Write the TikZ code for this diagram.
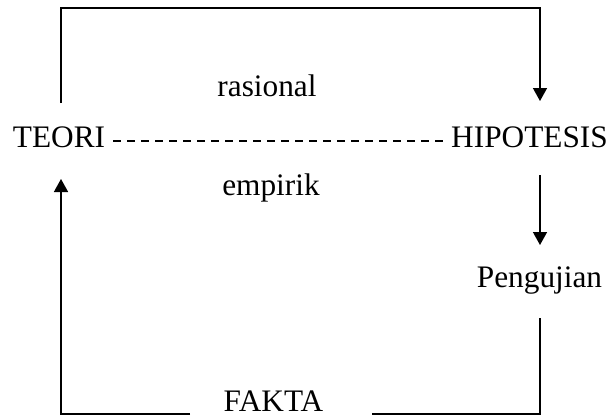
\documentclass[tikz,border=0pt]{standalone}
\usepackage{fontspec}
\setmainfont{Liberation Serif}
\usetikzlibrary{arrows.meta}
\tikzset{
  lbl/.style={anchor=base,inner sep=0pt,font=\fontsize{31.3}{36}\selectfont},
  conn/.style={line width=1.5pt,line join=miter},
  arr/.style={conn,-{Triangle[length=13pt,width=14pt]}},
  dsh/.style={line width=1.5pt,dash pattern=on 8pt off 6pt}
}
\begin{document}
\begin{tikzpicture}[x=1pt,y=-1pt]
\useasboundingbox (0,0) rectangle (611,418);
\node[lbl] (teori) at (59,147) {TEORI};
\node[lbl] (hipo) at (529.5,147) {HIPOTESIS};
\node[lbl] (uji) at (539.5,287) {Pengujian};
\node[lbl] (fakta) at (273.5,411) {FAKTA};
\node[lbl] (ras) at (267,96) {rasional};
\node[lbl] (emp) at (271,195) {empirik};
% top loop TEORI -> HIPOTESIS
\coordinate (t1) at (61,103);
\coordinate (t2) at (540,101);
\draw[arr] (t1) -- (61,8) -| (t2);
% dashed link
\coordinate (d1) at (113,141);
\coordinate (d2) at (443,141);
\draw[dsh] (d1) -- (d2);
% HIPOTESIS -> Pengujian
\coordinate (h1) at (540,175);
\coordinate (h2) at (540,245);
\draw[arr] (h1) -- (h2);
% Pengujian -> FAKTA
\coordinate (p1) at (540,318);
\coordinate (p2) at (372,414);
\draw[conn] (p1) |- (p2);
% FAKTA -> TEORI
\coordinate (f1) at (190,414);
\coordinate (f2) at (61,179);
\draw[arr] (f1) -| (f2);
\end{tikzpicture}
\end{document}
